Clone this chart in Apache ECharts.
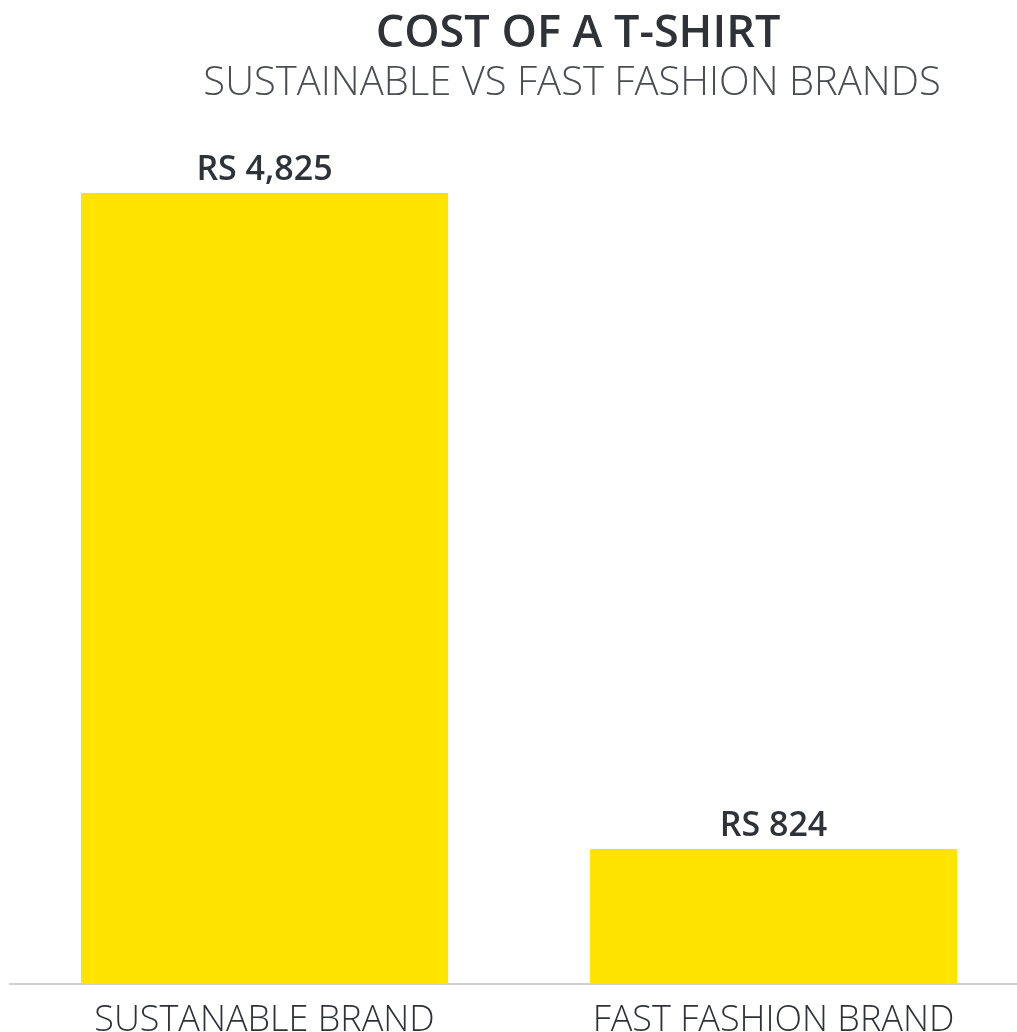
<!DOCTYPE html>
<html>
<head>
<meta charset="utf-8">
<style>
  html, body { margin: 0; padding: 0; background: #ffffff; overflow: hidden; }
  #chart { width: 1040px; height: 1032px; }
</style>
<script src="https://cdn.jsdelivr.net/npm/echarts@6/dist/echarts.min.js"></script>
</head>
<body>
<div id="chart"></div>
<script>
// T-shirt price comparison, in rupees
const categories = ['SUSTANABLE BRAND', 'FAST FASHION BRAND'];
const costs = [4825, 824];
const titleText = 'COST OF A T-SHIRT';
const subtitleText = 'SUSTAINABLE VS FAST FASHION BRANDS';

const FONT = '"Open Sans", Roboto, sans-serif';
const chart = echarts.init(document.getElementById('chart'), null, { renderer: 'canvas' });

chart.setOption({
  backgroundColor: '#ffffff',
  animation: false,
  graphic: [
    {
      type: 'text', x: 578, y: 34,
      style: {
        text: titleText, textAlign: 'center', textVerticalAlign: 'middle',
        fontFamily: FONT, fontSize: 45, fontWeight: 600, fill: '#2f3237'
      }
    },
    {
      type: 'text', x: 572, y: 84,
      style: {
        text: subtitleText, textAlign: 'center', textVerticalAlign: 'middle',
        fontFamily: FONT, fontSize: 40, fontWeight: 300, fill: '#4a4d52'
      }
    }
  ],
  grid: { left: 10, right: 12, top: 193, bottom: 48, outerBoundsMode: 'none', containLabel: false },
  xAxis: {
    type: 'category',
    data: categories,
    axisLine: { show: true, lineStyle: { color: '#cfd0d2', width: 2 } },
    axisTick: { show: false },
    axisLabel: {
      margin: 19, color: '#2f3237',
      fontFamily: FONT, fontSize: 36, fontWeight: 300
    }
  },
  yAxis: {
    type: 'value', min: 0, max: 4825, show: false,
    splitLine: { show: false }
  },
  series: [{
    type: 'bar',
    data: costs,
    barWidth: 367,
    itemStyle: { color: '#ffe400' },
    label: {
      show: true, position: 'top', distance: 6,
      formatter: p => 'RS ' + p.value.toLocaleString('en-US'),
      fontFamily: FONT, fontSize: 34, fontWeight: 600, color: '#2f3237'
    }
  }]
});
</script>
</body>
</html>
